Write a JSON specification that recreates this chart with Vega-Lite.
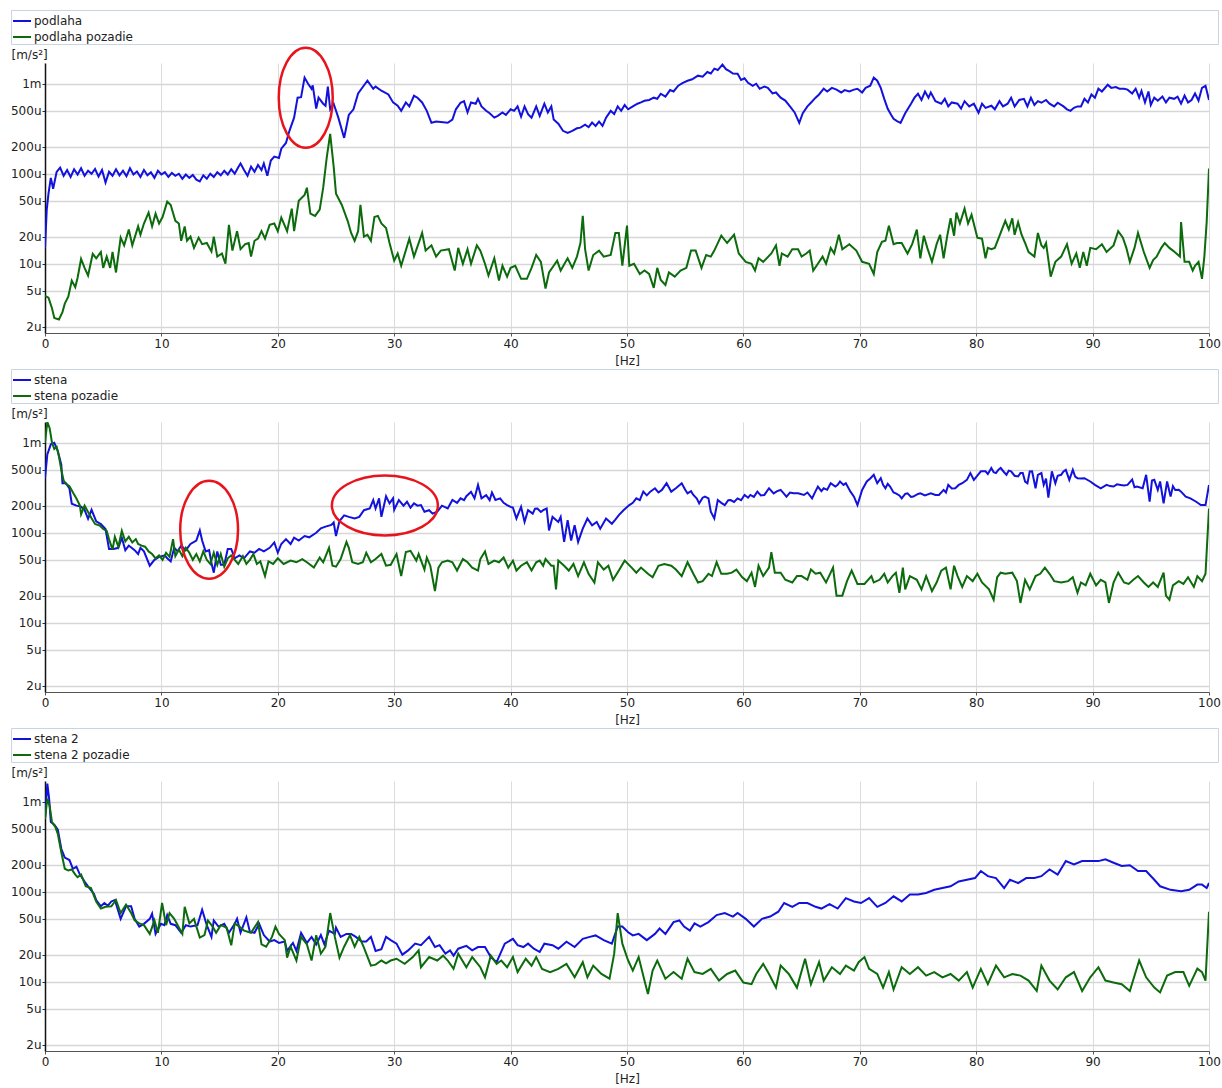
{
"$schema":"https://vega.github.io/schema/vega-lite/v6.json",
"padding":{"top":9,"left":10,"right":2,"bottom":2},
"config":{"font":"DejaVu Sans","view":{"stroke":null},
"axisX":{"labelFlush":false,"labelFontSize":12,"labelColor":"#222","titleFontSize":12,"titleFontWeight":"normal","titleColor":"#222","grid":true,"gridColor":"#dcdcdc","gridWidth":1,"domainColor":"#555","tickColor":"#555","tickSize":3,"labelPadding":2,"titlePadding":6},
"axisY":{"labelFontSize":12,"labelColor":"#222","titleFontSize":12,"titleFontWeight":"normal","titleColor":"#222","grid":true,"gridColor":"#d6d6d6","gridWidth":1.5,"domainColor":"#111","domainWidth":1.5,"tickColor":"#333","tickSize":3,"labelPadding":1,"titleAngle":0,"titleAlign":"left","titleBaseline":"middle","titleX":-34,"titleY":-9},
"legend":{"orient":"none","legendX":-34,"legendY":-53,"direction":"vertical","symbolType":"stroke","symbolSize":324,"symbolStrokeWidth":2,"labelFontSize":12,"labelColor":"#222","labelLimit":3000,"labelOffset":2,"strokeColor":"#c8d4e2","padding":1,"rowPadding":0}},
"spacing":2,
"resolve":{"scale":{"color":"independent"}},
"datasets":{
"p1a":[{"f":0,"v":15},{"f":0.15,"v":40},{"f":0.3,"v":60},{"f":0.5,"v":90},{"f":0.7,"v":68},{"f":1,"v":105},{"f":1.3,"v":117},{"f":1.6,"v":95},{"f":1.9,"v":110},{"f":2.2,"v":92},{"f":2.5,"v":112},{"f":2.8,"v":98},{"f":3.1,"v":115},{"f":3.4,"v":95},{"f":3.7,"v":108},{"f":4,"v":100},{"f":4.3,"v":113},{"f":4.6,"v":93},{"f":4.9,"v":110},{"f":5.2,"v":80},{"f":5.5,"v":105},{"f":5.8,"v":95},{"f":6.1,"v":112},{"f":6.4,"v":96},{"f":6.7,"v":108},{"f":7,"v":94},{"f":7.3,"v":115},{"f":7.6,"v":98},{"f":7.9,"v":106},{"f":8.2,"v":92},{"f":8.5,"v":110},{"f":8.8,"v":96},{"f":9.1,"v":104},{"f":9.4,"v":90},{"f":9.7,"v":108},{"f":10,"v":98},{"f":10.3,"v":104},{"f":10.6,"v":92},{"f":10.9,"v":102},{"f":11.2,"v":95},{"f":11.5,"v":100},{"f":11.8,"v":88},{"f":12.1,"v":98},{"f":12.4,"v":90},{"f":12.7,"v":97},{"f":13,"v":86},{"f":13.3,"v":82},{"f":13.6,"v":96},{"f":13.9,"v":88},{"f":14.2,"v":100},{"f":14.5,"v":92},{"f":14.8,"v":104},{"f":15.1,"v":96},{"f":15.4,"v":108},{"f":15.7,"v":98},{"f":16,"v":112},{"f":16.3,"v":100},{"f":16.6,"v":118},{"f":16.8,"v":130},{"f":17.1,"v":110},{"f":17.4,"v":95},{"f":17.7,"v":120},{"f":18,"v":105},{"f":18.3,"v":125},{"f":18.6,"v":110},{"f":18.8,"v":130},{"f":19.1,"v":95},{"f":19.4,"v":140},{"f":19.7,"v":155},{"f":20.1,"v":150},{"f":20.3,"v":190},{"f":20.7,"v":220},{"f":21,"v":300},{"f":21.4,"v":420},{"f":21.7,"v":700},{"f":22,"v":710},{"f":22.3,"v":1170},{"f":22.6,"v":1000},{"f":22.9,"v":880},{"f":23,"v":960},{"f":23.3,"v":530},{"f":23.5,"v":700},{"f":23.9,"v":600},{"f":24.1,"v":570},{"f":24.3,"v":930},{"f":24.5,"v":520},{"f":24.8,"v":600},{"f":25.2,"v":420},{"f":25.7,"v":250},{"f":26.1,"v":450},{"f":26.5,"v":520},{"f":26.9,"v":780},{"f":27.3,"v":920},{"f":27.7,"v":1080},{"f":28.2,"v":880},{"f":28.4,"v":930},{"f":28.9,"v":836},{"f":29.5,"v":760},{"f":29.9,"v":620},{"f":30.3,"v":570},{"f":30.6,"v":500},{"f":31,"v":620},{"f":31.3,"v":560},{"f":31.7,"v":735},{"f":32,"v":700},{"f":32.4,"v":620},{"f":32.8,"v":500},{"f":33.2,"v":368},{"f":33.6,"v":380},{"f":34,"v":375},{"f":34.6,"v":368},{"f":35,"v":400},{"f":35.3,"v":520},{"f":35.7,"v":615},{"f":36,"v":640},{"f":36.3,"v":480},{"f":36.6,"v":620},{"f":37,"v":600},{"f":37.2,"v":680},{"f":37.5,"v":560},{"f":37.9,"v":500},{"f":38.2,"v":470},{"f":38.6,"v":420},{"f":38.9,"v":440},{"f":39.3,"v":480},{"f":39.6,"v":450},{"f":40,"v":520},{"f":40.3,"v":500},{"f":40.6,"v":560},{"f":40.9,"v":430},{"f":41.2,"v":560},{"f":41.5,"v":460},{"f":41.8,"v":420},{"f":42.2,"v":560},{"f":42.5,"v":440},{"f":42.9,"v":600},{"f":43.2,"v":480},{"f":43.5,"v":560},{"f":43.7,"v":400},{"f":44.1,"v":360},{"f":44.5,"v":300},{"f":44.9,"v":285},{"f":45.3,"v":300},{"f":45.7,"v":320},{"f":46,"v":325},{"f":46.4,"v":350},{"f":46.7,"v":330},{"f":47,"v":370},{"f":47.3,"v":340},{"f":47.6,"v":380},{"f":47.9,"v":340},{"f":48.2,"v":420},{"f":48.6,"v":500},{"f":48.9,"v":460},{"f":49.2,"v":560},{"f":49.5,"v":500},{"f":49.8,"v":580},{"f":50.1,"v":520},{"f":50.5,"v":560},{"f":50.9,"v":600},{"f":51.2,"v":620},{"f":51.5,"v":647},{"f":51.9,"v":660},{"f":52.3,"v":700},{"f":52.6,"v":680},{"f":52.9,"v":774},{"f":53.3,"v":720},{"f":53.7,"v":850},{"f":54,"v":820},{"f":54.4,"v":950},{"f":54.8,"v":1020},{"f":55.2,"v":1080},{"f":55.6,"v":1120},{"f":56.1,"v":1230},{"f":56.5,"v":1200},{"f":56.9,"v":1350},{"f":57.2,"v":1300},{"f":57.5,"v":1470},{"f":57.8,"v":1420},{"f":58.2,"v":1630},{"f":58.5,"v":1450},{"f":58.8,"v":1380},{"f":59.1,"v":1300},{"f":59.5,"v":1290},{"f":59.8,"v":1100},{"f":60.1,"v":1150},{"f":60.4,"v":1025},{"f":60.8,"v":950},{"f":61.1,"v":1000},{"f":61.4,"v":880},{"f":61.8,"v":930},{"f":62.1,"v":900},{"f":62.5,"v":780},{"f":62.8,"v":800},{"f":63.2,"v":700},{"f":63.6,"v":650},{"f":64,"v":560},{"f":64.4,"v":480},{"f":64.8,"v":368},{"f":65.1,"v":470},{"f":65.5,"v":560},{"f":65.8,"v":615},{"f":66.2,"v":700},{"f":66.5,"v":760},{"f":66.9,"v":880},{"f":67.2,"v":820},{"f":67.6,"v":900},{"f":68,"v":860},{"f":68.4,"v":800},{"f":68.7,"v":850},{"f":69.1,"v":820},{"f":69.5,"v":860},{"f":69.8,"v":880},{"f":70.2,"v":800},{"f":70.5,"v":900},{"f":70.9,"v":950},{"f":71.2,"v":1170},{"f":71.5,"v":1080},{"f":71.8,"v":900},{"f":72.1,"v":680},{"f":72.4,"v":527},{"f":72.7,"v":450},{"f":72.9,"v":408},{"f":73.2,"v":385},{"f":73.5,"v":368},{"f":73.9,"v":470},{"f":74.4,"v":600},{"f":74.7,"v":700},{"f":75,"v":774},{"f":75.3,"v":660},{"f":75.6,"v":820},{"f":75.9,"v":700},{"f":76.1,"v":800},{"f":76.5,"v":640},{"f":77,"v":600},{"f":77.3,"v":680},{"f":77.6,"v":560},{"f":77.9,"v":620},{"f":78.4,"v":600},{"f":78.7,"v":530},{"f":79,"v":640},{"f":79.4,"v":560},{"f":79.8,"v":600},{"f":80.2,"v":476},{"f":80.5,"v":600},{"f":80.8,"v":540},{"f":81.3,"v":570},{"f":81.6,"v":520},{"f":82,"v":640},{"f":82.3,"v":560},{"f":82.7,"v":600},{"f":83,"v":700},{"f":83.3,"v":560},{"f":83.7,"v":660},{"f":84.1,"v":680},{"f":84.4,"v":560},{"f":84.7,"v":700},{"f":85,"v":580},{"f":85.3,"v":640},{"f":85.6,"v":615},{"f":86,"v":660},{"f":86.3,"v":600},{"f":86.7,"v":560},{"f":87,"v":615},{"f":87.5,"v":560},{"f":87.8,"v":520},{"f":88.1,"v":500},{"f":88.4,"v":540},{"f":88.7,"v":560},{"f":89,"v":560},{"f":89.3,"v":680},{"f":89.6,"v":620},{"f":89.9,"v":760},{"f":90.2,"v":700},{"f":90.5,"v":880},{"f":90.8,"v":820},{"f":91.3,"v":975},{"f":91.6,"v":900},{"f":92,"v":920},{"f":92.3,"v":880},{"f":92.7,"v":880},{"f":93,"v":860},{"f":93.4,"v":780},{"f":93.7,"v":880},{"f":94,"v":700},{"f":94.2,"v":830},{"f":94.5,"v":620},{"f":94.8,"v":820},{"f":95,"v":580},{"f":95.3,"v":700},{"f":95.6,"v":647},{"f":96,"v":720},{"f":96.3,"v":620},{"f":96.6,"v":700},{"f":97,"v":680},{"f":97.3,"v":720},{"f":97.6,"v":600},{"f":97.9,"v":740},{"f":98.2,"v":620},{"f":98.5,"v":660},{"f":98.8,"v":780},{"f":99.1,"v":650},{"f":99.4,"v":900},{"f":99.7,"v":950},{"f":100,"v":660}],
"p1b":[{"f":0,"v":4.4},{"f":0.3,"v":4.2},{"f":0.6,"v":3.2},{"f":0.8,"v":2.5},{"f":1.2,"v":2.4},{"f":1.5,"v":2.9},{"f":1.7,"v":3.6},{"f":2,"v":4.3},{"f":2.3,"v":6.5},{"f":2.6,"v":5.5},{"f":2.8,"v":7},{"f":3.1,"v":11.3},{"f":3.4,"v":9},{"f":3.7,"v":7.4},{"f":4.1,"v":12.9},{"f":4.4,"v":11.5},{"f":4.8,"v":13.5},{"f":5,"v":9},{"f":5.3,"v":12},{"f":5.6,"v":9},{"f":5.8,"v":13.5},{"f":6.1,"v":8},{"f":6.5,"v":19.5},{"f":6.8,"v":16},{"f":7.2,"v":24},{"f":7.5,"v":16},{"f":8,"v":26},{"f":8.2,"v":21},{"f":8.5,"v":28},{"f":8.9,"v":37},{"f":9.2,"v":26},{"f":9.5,"v":36},{"f":9.8,"v":28},{"f":10.1,"v":33},{"f":10.5,"v":49},{"f":10.8,"v":45},{"f":11.2,"v":30},{"f":11.5,"v":28},{"f":11.7,"v":18},{"f":12,"v":26},{"f":12.2,"v":18},{"f":12.5,"v":20},{"f":12.8,"v":15},{"f":13.2,"v":19.5},{"f":13.5,"v":16.5},{"f":13.9,"v":17},{"f":14.3,"v":13.7},{"f":14.5,"v":20},{"f":14.8,"v":12},{"f":15.2,"v":13},{"f":15.5,"v":10},{"f":15.8,"v":27},{"f":16.1,"v":14},{"f":16.5,"v":23},{"f":16.8,"v":14.5},{"f":17.2,"v":16.5},{"f":17.5,"v":17},{"f":17.7,"v":12},{"f":18,"v":18},{"f":18.3,"v":19},{"f":18.6,"v":23},{"f":18.9,"v":19},{"f":19.3,"v":27},{"f":19.7,"v":28},{"f":20,"v":23},{"f":20.3,"v":32.5},{"f":20.8,"v":23},{"f":21.2,"v":41},{"f":21.4,"v":23},{"f":21.8,"v":50},{"f":22.3,"v":58},{"f":22.5,"v":70},{"f":22.8,"v":36},{"f":23.2,"v":34},{"f":23.6,"v":40},{"f":23.9,"v":70},{"f":24.2,"v":150},{"f":24.5,"v":278},{"f":24.8,"v":120},{"f":25,"v":60},{"f":25.5,"v":45},{"f":26,"v":30},{"f":26.3,"v":22},{"f":26.6,"v":18},{"f":26.9,"v":23},{"f":27.1,"v":45},{"f":27.4,"v":20},{"f":27.7,"v":21},{"f":28,"v":18},{"f":28.3,"v":33},{"f":28.6,"v":34},{"f":28.9,"v":28},{"f":29.3,"v":25},{"f":29.6,"v":17},{"f":30,"v":10.8},{"f":30.3,"v":13},{"f":30.6,"v":9.5},{"f":31.3,"v":19},{"f":31.7,"v":12},{"f":32.4,"v":22},{"f":32.7,"v":14},{"f":33.2,"v":16},{"f":33.6,"v":12},{"f":34,"v":14},{"f":34.7,"v":14.5},{"f":35.2,"v":8.4},{"f":35.5,"v":15},{"f":35.9,"v":10},{"f":36.3,"v":14.5},{"f":36.6,"v":10},{"f":37.1,"v":16},{"f":37.4,"v":14},{"f":37.8,"v":10},{"f":38.1,"v":7.4},{"f":38.6,"v":11.5},{"f":39,"v":6.5},{"f":39.3,"v":9.5},{"f":39.7,"v":7.2},{"f":40,"v":9},{"f":40.4,"v":9.5},{"f":40.9,"v":6.8},{"f":41.4,"v":6.8},{"f":41.8,"v":9},{"f":42.2,"v":12.5},{"f":42.6,"v":10.5},{"f":43,"v":5.3},{"f":43.3,"v":8},{"f":43.7,"v":9.5},{"f":44,"v":10.8},{"f":44.3,"v":8.4},{"f":44.9,"v":11.5},{"f":45.3,"v":9},{"f":45.7,"v":12},{"f":46,"v":17},{"f":46.2,"v":34},{"f":46.4,"v":14.5},{"f":46.7,"v":8.4},{"f":47.1,"v":12.5},{"f":47.6,"v":14},{"f":48,"v":12},{"f":48.6,"v":12.5},{"f":49,"v":22},{"f":49.3,"v":22},{"f":49.6,"v":9.5},{"f":50,"v":26.5},{"f":50.2,"v":9.5},{"f":50.6,"v":10},{"f":51.1,"v":7.7},{"f":51.5,"v":8.4},{"f":51.9,"v":7.7},{"f":52.3,"v":5.4},{"f":52.6,"v":9},{"f":52.9,"v":6.6},{"f":53.3,"v":5.8},{"f":53.6,"v":8},{"f":54.1,"v":7.2},{"f":54.6,"v":8.4},{"f":55.1,"v":9},{"f":55.5,"v":14},{"f":55.9,"v":14},{"f":56.4,"v":9},{"f":56.8,"v":12.5},{"f":57.2,"v":12},{"f":57.5,"v":14},{"f":58.1,"v":20.5},{"f":58.6,"v":17},{"f":59.2,"v":21},{"f":59.6,"v":13},{"f":60.2,"v":10.5},{"f":60.7,"v":10},{"f":61,"v":8.4},{"f":61.3,"v":11.5},{"f":61.7,"v":10.5},{"f":62.4,"v":13},{"f":62.8,"v":16},{"f":63.1,"v":9.5},{"f":63.3,"v":13},{"f":63.8,"v":12},{"f":64.2,"v":14.5},{"f":64.7,"v":14.5},{"f":65,"v":12},{"f":65.4,"v":13},{"f":65.7,"v":14},{"f":66,"v":8.4},{"f":66.4,"v":10},{"f":66.8,"v":12},{"f":67.1,"v":10},{"f":67.5,"v":15},{"f":67.8,"v":13},{"f":68.2,"v":21},{"f":68.5,"v":14.5},{"f":69.1,"v":16.5},{"f":69.7,"v":14},{"f":70.2,"v":10.5},{"f":70.8,"v":10},{"f":71.2,"v":7.7},{"f":71.5,"v":13.5},{"f":71.9,"v":17.5},{"f":72.2,"v":18},{"f":72.5,"v":26.5},{"f":72.9,"v":16.5},{"f":73.2,"v":17},{"f":73.6,"v":17},{"f":74.1,"v":13},{"f":74.5,"v":16.5},{"f":74.9,"v":24},{"f":75.2,"v":11.5},{"f":75.5,"v":20.5},{"f":75.8,"v":15},{"f":76.2,"v":10.5},{"f":76.6,"v":16.5},{"f":76.9,"v":21},{"f":77.2,"v":11.5},{"f":77.5,"v":20},{"f":77.8,"v":32},{"f":78.1,"v":20.5},{"f":78.3,"v":37},{"f":78.6,"v":28},{"f":79,"v":41},{"f":79.3,"v":28},{"f":79.6,"v":35},{"f":80.1,"v":19.5},{"f":80.5,"v":19},{"f":80.8,"v":11.5},{"f":81,"v":15},{"f":81.3,"v":14.5},{"f":81.6,"v":15},{"f":82.1,"v":22},{"f":82.5,"v":30},{"f":82.8,"v":24},{"f":83.1,"v":32},{"f":83.3,"v":21},{"f":83.6,"v":29},{"f":83.9,"v":21},{"f":84.2,"v":17},{"f":84.5,"v":13.5},{"f":85,"v":12},{"f":85.3,"v":22},{"f":85.6,"v":16},{"f":85.8,"v":15},{"f":86,"v":17},{"f":86.4,"v":7.2},{"f":86.8,"v":10.5},{"f":87.3,"v":12},{"f":87.8,"v":16.5},{"f":88.2,"v":10},{"f":88.6,"v":13},{"f":88.9,"v":9},{"f":89.2,"v":13.5},{"f":89.5,"v":9.5},{"f":89.8,"v":15},{"f":90.3,"v":14.5},{"f":90.8,"v":16.5},{"f":91.2,"v":13.5},{"f":91.8,"v":16},{"f":92.2,"v":23},{"f":92.6,"v":19.5},{"f":92.9,"v":15},{"f":93.2,"v":10.5},{"f":93.6,"v":15},{"f":93.9,"v":22},{"f":94.4,"v":13.5},{"f":94.9,"v":9},{"f":95.2,"v":11},{"f":95.5,"v":12},{"f":95.9,"v":15},{"f":96.2,"v":17},{"f":96.6,"v":15},{"f":96.9,"v":14},{"f":97.2,"v":13},{"f":97.5,"v":12},{"f":97.6,"v":29},{"f":97.9,"v":10.5},{"f":98.3,"v":10.5},{"f":98.6,"v":8.4},{"f":98.8,"v":9.5},{"f":99.1,"v":10.5},{"f":99.4,"v":6.8},{"f":99.6,"v":12},{"f":99.8,"v":29},{"f":100,"v":114}],
"p2a":[{"f":0,"v":404},{"f":0.2,"v":740},{"f":0.5,"v":960},{"f":0.8,"v":1000},{"f":1.1,"v":810},{"f":1.4,"v":570},{"f":1.5,"v":355},{"f":1.8,"v":355},{"f":2.1,"v":310},{"f":2.3,"v":210},{"f":2.7,"v":200},{"f":3.1,"v":195},{"f":3.4,"v":180},{"f":3.7,"v":143},{"f":4,"v":180},{"f":4.4,"v":134},{"f":4.8,"v":125},{"f":5.2,"v":110},{"f":5.5,"v":66},{"f":5.9,"v":66},{"f":6.3,"v":68},{"f":6.6,"v":88},{"f":6.9,"v":64},{"f":7.2,"v":72},{"f":7.7,"v":64},{"f":8,"v":58},{"f":8.2,"v":68},{"f":8.5,"v":62},{"f":9,"v":43},{"f":9.4,"v":50},{"f":9.8,"v":54},{"f":10.3,"v":56},{"f":10.5,"v":52},{"f":10.8,"v":48},{"f":11.1,"v":68},{"f":11.4,"v":62},{"f":11.7,"v":72},{"f":12.1,"v":64},{"f":12.5,"v":75},{"f":13,"v":82},{"f":13.3,"v":106},{"f":13.5,"v":82},{"f":13.8,"v":62},{"f":14.1,"v":64},{"f":14.3,"v":46},{"f":14.5,"v":36},{"f":14.8,"v":62},{"f":15.1,"v":44},{"f":15.4,"v":44},{"f":15.7,"v":66},{"f":16,"v":66},{"f":16.3,"v":52},{"f":16.7,"v":56},{"f":17.1,"v":52},{"f":17.6,"v":62},{"f":18,"v":60},{"f":18.4,"v":66},{"f":18.8,"v":62},{"f":19.3,"v":68},{"f":19.7,"v":78},{"f":20,"v":60},{"f":20.3,"v":75},{"f":20.7,"v":85},{"f":21.1,"v":75},{"f":21.4,"v":88},{"f":21.8,"v":82},{"f":22.3,"v":92},{"f":22.7,"v":89},{"f":23.3,"v":100},{"f":23.7,"v":112},{"f":24.1,"v":117},{"f":24.6,"v":122},{"f":24.8,"v":130},{"f":25,"v":92},{"f":25.3,"v":135},{"f":25.7,"v":156},{"f":26.1,"v":150},{"f":26.6,"v":144},{"f":27,"v":150},{"f":27.4,"v":178},{"f":27.9,"v":186},{"f":28.2,"v":231},{"f":28.4,"v":186},{"f":28.7,"v":241},{"f":28.9,"v":150},{"f":29.3,"v":254},{"f":29.6,"v":212},{"f":29.9,"v":241},{"f":30,"v":180},{"f":30.4,"v":231},{"f":30.8,"v":200},{"f":31.1,"v":221},{"f":31.4,"v":190},{"f":31.7,"v":212},{"f":32,"v":200},{"f":32.3,"v":203},{"f":32.6,"v":171},{"f":33,"v":178},{"f":33.3,"v":163},{"f":33.7,"v":171},{"f":34.1,"v":200},{"f":34.6,"v":186},{"f":35,"v":231},{"f":35.4,"v":215},{"f":35.7,"v":241},{"f":36,"v":230},{"f":36.2,"v":255},{"f":36.6,"v":285},{"f":36.9,"v":241},{"f":37.2,"v":340},{"f":37.5,"v":241},{"f":37.9,"v":262},{"f":38.2,"v":230},{"f":38.4,"v":280},{"f":38.7,"v":231},{"f":39.1,"v":241},{"f":39.4,"v":215},{"f":39.7,"v":203},{"f":40,"v":194},{"f":40.2,"v":190},{"f":40.5,"v":144},{"f":40.9,"v":194},{"f":41.2,"v":132},{"f":41.5,"v":178},{"f":41.9,"v":163},{"f":42.1,"v":185},{"f":42.3,"v":186},{"f":42.6,"v":170},{"f":42.8,"v":178},{"f":43.1,"v":186},{"f":43.3,"v":106},{"f":43.6,"v":150},{"f":44.1,"v":132},{"f":44.3,"v":150},{"f":44.6,"v":79},{"f":44.9,"v":138},{"f":45.2,"v":82},{"f":45.5,"v":121},{"f":45.8,"v":79},{"f":46.2,"v":111},{"f":46.6,"v":144},{"f":47,"v":121},{"f":47.4,"v":132},{"f":47.7,"v":111},{"f":48.2,"v":144},{"f":48.7,"v":126},{"f":49,"v":140},{"f":49.3,"v":157},{"f":49.7,"v":178},{"f":50.2,"v":203},{"f":50.5,"v":215},{"f":50.8,"v":241},{"f":51.1,"v":230},{"f":51.4,"v":286},{"f":51.7,"v":260},{"f":52,"v":286},{"f":52.4,"v":312},{"f":52.7,"v":280},{"f":53,"v":299},{"f":53.4,"v":355},{"f":53.8,"v":286},{"f":54.2,"v":312},{"f":54.7,"v":355},{"f":55,"v":300},{"f":55.2,"v":274},{"f":55.5,"v":290},{"f":55.7,"v":263},{"f":56,"v":240},{"f":56.2,"v":212},{"f":56.5,"v":245},{"f":56.7,"v":252},{"f":57,"v":241},{"f":57.2,"v":171},{"f":57.5,"v":144},{"f":57.8,"v":231},{"f":58.1,"v":215},{"f":58.4,"v":203},{"f":58.7,"v":230},{"f":58.9,"v":231},{"f":59.2,"v":220},{"f":59.5,"v":241},{"f":59.8,"v":230},{"f":60.1,"v":263},{"f":60.4,"v":245},{"f":60.6,"v":263},{"f":60.9,"v":250},{"f":61.2,"v":286},{"f":61.5,"v":260},{"f":61.8,"v":263},{"f":62.2,"v":312},{"f":62.6,"v":274},{"f":62.9,"v":290},{"f":63.2,"v":299},{"f":63.5,"v":270},{"f":63.7,"v":252},{"f":64,"v":280},{"f":64.3,"v":274},{"f":64.7,"v":274},{"f":65.2,"v":263},{"f":65.5,"v":280},{"f":65.9,"v":241},{"f":66.2,"v":290},{"f":66.4,"v":326},{"f":66.7,"v":290},{"f":66.9,"v":312},{"f":67.2,"v":300},{"f":67.5,"v":355},{"f":67.9,"v":326},{"f":68.1,"v":340},{"f":68.3,"v":371},{"f":68.6,"v":340},{"f":68.8,"v":355},{"f":69.2,"v":286},{"f":69.5,"v":252},{"f":69.8,"v":203},{"f":70.2,"v":299},{"f":70.6,"v":371},{"f":70.9,"v":400},{"f":71.2,"v":440},{"f":71.5,"v":355},{"f":71.8,"v":404},{"f":72,"v":340},{"f":72.2,"v":312},{"f":72.4,"v":350},{"f":72.6,"v":326},{"f":72.9,"v":280},{"f":73.1,"v":274},{"f":73.4,"v":260},{"f":73.6,"v":241},{"f":73.9,"v":270},{"f":74.1,"v":274},{"f":74.4,"v":250},{"f":74.6,"v":252},{"f":75,"v":270},{"f":75.2,"v":274},{"f":75.6,"v":260},{"f":76.1,"v":274},{"f":76.5,"v":263},{"f":76.8,"v":263},{"f":77.2,"v":299},{"f":77.4,"v":280},{"f":77.6,"v":340},{"f":77.9,"v":310},{"f":78.2,"v":312},{"f":78.5,"v":340},{"f":78.8,"v":355},{"f":79.2,"v":387},{"f":79.5,"v":460},{"f":79.8,"v":387},{"f":80.1,"v":430},{"f":80.4,"v":481},{"f":80.8,"v":481},{"f":81,"v":450},{"f":81.3,"v":524},{"f":81.5,"v":470},{"f":81.7,"v":460},{"f":81.9,"v":500},{"f":82.1,"v":524},{"f":82.4,"v":470},{"f":82.6,"v":440},{"f":82.8,"v":490},{"f":83,"v":481},{"f":83.3,"v":430},{"f":83.6,"v":422},{"f":83.8,"v":460},{"f":84,"v":460},{"f":84.2,"v":370},{"f":84.4,"v":355},{"f":84.6,"v":480},{"f":84.8,"v":481},{"f":85.1,"v":312},{"f":85.3,"v":440},{"f":85.6,"v":460},{"f":85.8,"v":340},{"f":86,"v":400},{"f":86.2,"v":245},{"f":86.5,"v":481},{"f":86.8,"v":355},{"f":87,"v":430},{"f":87.3,"v":440},{"f":87.5,"v":480},{"f":87.7,"v":500},{"f":88,"v":387},{"f":88.3,"v":500},{"f":88.5,"v":420},{"f":88.7,"v":404},{"f":89,"v":400},{"f":89.3,"v":404},{"f":89.8,"v":371},{"f":90.2,"v":340},{"f":90.7,"v":312},{"f":91.2,"v":340},{"f":91.5,"v":330},{"f":91.8,"v":326},{"f":92.1,"v":345},{"f":92.4,"v":340},{"f":92.7,"v":335},{"f":93,"v":340},{"f":93.4,"v":390},{"f":93.6,"v":320},{"f":93.8,"v":326},{"f":94.3,"v":312},{"f":94.6,"v":440},{"f":94.9,"v":221},{"f":95.1,"v":380},{"f":95.3,"v":387},{"f":95.6,"v":299},{"f":95.8,"v":371},{"f":96.1,"v":212},{"f":96.4,"v":371},{"f":96.7,"v":252},{"f":96.9,"v":330},{"f":97.1,"v":299},{"f":97.4,"v":300},{"f":97.6,"v":286},{"f":98,"v":252},{"f":98.4,"v":241},{"f":98.9,"v":221},{"f":99.3,"v":203},{"f":99.7,"v":203},{"f":100,"v":340}],
"p2b":[{"f":0,"v":1000},{"f":0.2,"v":1700},{"f":0.4,"v":1450},{"f":0.6,"v":1000},{"f":0.8,"v":850},{"f":1,"v":900},{"f":1.2,"v":700},{"f":1.4,"v":500},{"f":1.6,"v":380},{"f":1.8,"v":350},{"f":2.1,"v":330},{"f":2.4,"v":280},{"f":2.7,"v":240},{"f":3,"v":200},{"f":3.1,"v":160},{"f":3.4,"v":200},{"f":3.7,"v":170},{"f":4,"v":145},{"f":4.3,"v":125},{"f":4.7,"v":120},{"f":5,"v":110},{"f":5.3,"v":105},{"f":5.5,"v":85},{"f":5.8,"v":65},{"f":6,"v":90},{"f":6.3,"v":70},{"f":6.6,"v":105},{"f":6.9,"v":80},{"f":7.2,"v":90},{"f":7.5,"v":78},{"f":7.8,"v":85},{"f":8,"v":75},{"f":8.3,"v":72},{"f":8.6,"v":70},{"f":8.9,"v":62},{"f":9.2,"v":58},{"f":9.5,"v":52},{"f":9.8,"v":56},{"f":10.1,"v":50},{"f":10.4,"v":60},{"f":10.7,"v":54},{"f":11,"v":85},{"f":11.2,"v":55},{"f":11.5,"v":65},{"f":11.8,"v":55},{"f":12.1,"v":68},{"f":12.4,"v":60},{"f":12.7,"v":50},{"f":13,"v":58},{"f":13.3,"v":48},{"f":13.6,"v":62},{"f":13.9,"v":50},{"f":14.2,"v":45},{"f":14.5,"v":60},{"f":14.8,"v":44},{"f":15.1,"v":58},{"f":15.4,"v":42},{"f":15.7,"v":52},{"f":16,"v":56},{"f":16.3,"v":50},{"f":16.6,"v":45},{"f":17,"v":55},{"f":17.3,"v":45},{"f":17.6,"v":50},{"f":17.9,"v":58},{"f":18.2,"v":45},{"f":18.5,"v":48},{"f":18.9,"v":33},{"f":19.2,"v":48},{"f":19.6,"v":45},{"f":20,"v":52},{"f":20.5,"v":45},{"f":21.1,"v":49},{"f":21.6,"v":47},{"f":22.1,"v":51},{"f":22.5,"v":47},{"f":23.1,"v":41},{"f":23.6,"v":53},{"f":23.9,"v":47},{"f":24.4,"v":68},{"f":24.7,"v":43},{"f":25,"v":42},{"f":25.4,"v":51},{"f":25.9,"v":79},{"f":26.1,"v":68},{"f":26.4,"v":47},{"f":26.9,"v":45},{"f":27.3,"v":47},{"f":27.6,"v":60},{"f":28,"v":47},{"f":28.4,"v":51},{"f":28.9,"v":58},{"f":29.3,"v":43},{"f":29.7,"v":44},{"f":30.2,"v":58},{"f":30.6,"v":33},{"f":31,"v":61},{"f":31.4,"v":63},{"f":31.9,"v":49},{"f":32.1,"v":58},{"f":32.6,"v":39},{"f":32.8,"v":53},{"f":33.1,"v":43},{"f":33.5,"v":22.5},{"f":33.8,"v":41},{"f":34.1,"v":47},{"f":34.6,"v":49},{"f":35,"v":47},{"f":35.4,"v":38},{"f":35.9,"v":51},{"f":36.3,"v":47},{"f":36.7,"v":41},{"f":37.2,"v":38},{"f":37.4,"v":51},{"f":37.8,"v":62},{"f":38.1,"v":45},{"f":38.6,"v":49},{"f":39,"v":47},{"f":39.4,"v":53},{"f":39.8,"v":41},{"f":40.2,"v":49},{"f":40.5,"v":38},{"f":40.9,"v":43},{"f":41.4,"v":47},{"f":41.8,"v":38},{"f":42.2,"v":47},{"f":42.5,"v":49},{"f":42.8,"v":43},{"f":43,"v":51},{"f":43.5,"v":43},{"f":43.7,"v":43},{"f":43.9,"v":23.5},{"f":44.1,"v":49},{"f":44.6,"v":43},{"f":45,"v":38},{"f":45.4,"v":45},{"f":45.8,"v":33},{"f":46.3,"v":47},{"f":46.7,"v":35},{"f":47.2,"v":28},{"f":47.5,"v":47},{"f":48,"v":39},{"f":48.4,"v":43},{"f":48.8,"v":30},{"f":49.3,"v":38},{"f":49.8,"v":49},{"f":50.4,"v":41},{"f":50.8,"v":36},{"f":51.2,"v":41},{"f":51.8,"v":35},{"f":52.2,"v":32},{"f":52.7,"v":43},{"f":53.2,"v":45},{"f":53.8,"v":43},{"f":54.2,"v":39},{"f":54.7,"v":33},{"f":55.2,"v":47},{"f":55.7,"v":35},{"f":56.1,"v":28},{"f":56.5,"v":29},{"f":57,"v":35},{"f":57.3,"v":33},{"f":57.7,"v":47},{"f":58.1,"v":35},{"f":58.6,"v":35},{"f":59,"v":36},{"f":59.4,"v":39},{"f":59.9,"v":32},{"f":60.3,"v":29},{"f":60.7,"v":36},{"f":61,"v":25},{"f":61.3,"v":43},{"f":61.7,"v":33},{"f":62.2,"v":41},{"f":62.4,"v":61},{"f":62.7,"v":36},{"f":63.2,"v":36},{"f":63.6,"v":30},{"f":64.2,"v":28},{"f":64.6,"v":33},{"f":65,"v":33},{"f":65.5,"v":30},{"f":65.8,"v":39},{"f":66.2,"v":35},{"f":66.6,"v":36},{"f":67.1,"v":28},{"f":67.5,"v":36},{"f":67.7,"v":41},{"f":68,"v":20},{"f":68.5,"v":20},{"f":68.9,"v":29},{"f":69.3,"v":38},{"f":69.8,"v":27},{"f":70.4,"v":27},{"f":71,"v":33},{"f":71.2,"v":28},{"f":71.7,"v":30},{"f":72.1,"v":35},{"f":72.4,"v":28},{"f":72.8,"v":33},{"f":73.1,"v":36},{"f":73.4,"v":21.5},{"f":73.7,"v":41},{"f":73.9,"v":23.5},{"f":74.3,"v":33},{"f":74.9,"v":30},{"f":75.3,"v":23.5},{"f":75.7,"v":33},{"f":76.2,"v":22.5},{"f":76.6,"v":28},{"f":77,"v":38},{"f":77.4,"v":41},{"f":77.8,"v":23.5},{"f":78.1,"v":43},{"f":78.4,"v":33},{"f":78.8,"v":25},{"f":79.2,"v":33},{"f":79.7,"v":29},{"f":80.1,"v":35},{"f":80.5,"v":28},{"f":81.1,"v":23.5},{"f":81.5,"v":18},{"f":81.8,"v":32},{"f":82.1,"v":36},{"f":82.5,"v":35},{"f":83.1,"v":36},{"f":83.5,"v":29},{"f":83.8,"v":16.6},{"f":84.2,"v":30},{"f":84.6,"v":23.5},{"f":85.1,"v":33},{"f":85.5,"v":35},{"f":85.9,"v":41},{"f":86.3,"v":35},{"f":86.7,"v":29},{"f":87.3,"v":28},{"f":87.9,"v":29},{"f":88.3,"v":32},{"f":88.7,"v":21.5},{"f":89,"v":28},{"f":89.4,"v":26},{"f":89.8,"v":35},{"f":90.3,"v":26},{"f":90.7,"v":30},{"f":91.1,"v":28},{"f":91.4,"v":16.6},{"f":91.8,"v":28},{"f":92.2,"v":36},{"f":92.7,"v":28},{"f":93.1,"v":27},{"f":93.5,"v":30},{"f":93.9,"v":33},{"f":94.4,"v":28},{"f":94.8,"v":25},{"f":95.2,"v":28},{"f":95.6,"v":25},{"f":96.1,"v":36},{"f":96.3,"v":20},{"f":96.6,"v":18},{"f":96.9,"v":26},{"f":97.4,"v":29},{"f":97.8,"v":27},{"f":98.2,"v":32},{"f":98.7,"v":25},{"f":99,"v":33},{"f":99.4,"v":29},{"f":99.7,"v":35},{"f":100,"v":186}],
"p3a":[{"f":0,"v":644},{"f":0.2,"v":1590},{"f":0.35,"v":1100},{"f":0.5,"v":595},{"f":0.8,"v":555},{"f":1.1,"v":490},{"f":1.4,"v":300},{"f":1.7,"v":240},{"f":2.1,"v":225},{"f":2.4,"v":180},{"f":2.7,"v":190},{"f":3,"v":155},{"f":3.4,"v":130},{"f":3.8,"v":110},{"f":4.2,"v":95},{"f":4.4,"v":81},{"f":4.8,"v":69},{"f":5.1,"v":75},{"f":5.4,"v":70},{"f":5.7,"v":78},{"f":6,"v":81},{"f":6.5,"v":50},{"f":6.96,"v":69},{"f":7.4,"v":69},{"f":7.7,"v":50},{"f":8.1,"v":41},{"f":8.5,"v":44},{"f":9,"v":50},{"f":9.2,"v":57},{"f":9.5,"v":34},{"f":9.96,"v":44},{"f":10.25,"v":42.5},{"f":10.5,"v":55},{"f":10.8,"v":44},{"f":11.2,"v":42.5},{"f":11.7,"v":35},{"f":12.1,"v":42.5},{"f":12.5,"v":41},{"f":13.1,"v":42.5},{"f":13.5,"v":63},{"f":13.9,"v":42.5},{"f":14.3,"v":31.5},{"f":14.5,"v":48},{"f":14.9,"v":41},{"f":15.4,"v":44},{"f":15.8,"v":35},{"f":16.3,"v":44},{"f":16.5,"v":50},{"f":16.8,"v":35},{"f":17.3,"v":52},{"f":17.6,"v":36},{"f":18,"v":35},{"f":18.4,"v":44},{"f":18.8,"v":33},{"f":19.3,"v":28},{"f":19.7,"v":29},{"f":20.1,"v":27},{"f":20.6,"v":28},{"f":20.8,"v":22},{"f":21.3,"v":27},{"f":21.6,"v":22},{"f":22,"v":35},{"f":22.5,"v":27},{"f":22.9,"v":31.5},{"f":23.3,"v":26},{"f":23.7,"v":33},{"f":24,"v":26},{"f":24.4,"v":37},{"f":24.9,"v":34},{"f":25,"v":40},{"f":25.4,"v":31.5},{"f":25.9,"v":34},{"f":26.3,"v":34},{"f":26.7,"v":31.5},{"f":27.2,"v":28},{"f":27.6,"v":28},{"f":28,"v":31.5},{"f":28.4,"v":22},{"f":28.9,"v":23},{"f":29.3,"v":31.5},{"f":29.7,"v":29},{"f":30.2,"v":26.5},{"f":30.7,"v":20},{"f":31.2,"v":22.3},{"f":31.8,"v":26.5},{"f":32.3,"v":25.5},{"f":33,"v":31.5},{"f":33.5,"v":24.3},{"f":33.9,"v":25.5},{"f":34.4,"v":20.5},{"f":34.8,"v":22.3},{"f":35.1,"v":19.5},{"f":35.5,"v":23.3},{"f":36.2,"v":25},{"f":36.7,"v":22.3},{"f":37.2,"v":24.3},{"f":37.8,"v":24.3},{"f":38.3,"v":18.8},{"f":38.8,"v":16.5},{"f":39.5,"v":26.5},{"f":40.2,"v":30},{"f":40.6,"v":25.5},{"f":41.1,"v":24.3},{"f":41.5,"v":26.5},{"f":42,"v":23.3},{"f":42.5,"v":21.4},{"f":42.9,"v":26.5},{"f":43.6,"v":25.5},{"f":44.1,"v":23.3},{"f":44.8,"v":27.8},{"f":45.5,"v":24.3},{"f":46.2,"v":30},{"f":46.8,"v":31.5},{"f":47.3,"v":32.7},{"f":48,"v":29},{"f":48.7,"v":26.5},{"f":49.2,"v":41},{"f":49.6,"v":41},{"f":50.1,"v":35.5},{"f":50.5,"v":32.7},{"f":51,"v":34},{"f":51.7,"v":29},{"f":52.4,"v":34},{"f":52.8,"v":39},{"f":53.3,"v":34},{"f":54,"v":46},{"f":54.5,"v":48},{"f":54.9,"v":41},{"f":55.4,"v":37},{"f":55.8,"v":44.5},{"f":56.3,"v":41},{"f":57,"v":46},{"f":57.7,"v":55},{"f":58.4,"v":58},{"f":59.1,"v":53},{"f":59.5,"v":58},{"f":60.2,"v":50},{"f":60.9,"v":41},{"f":61.6,"v":50},{"f":62.3,"v":53},{"f":63,"v":60},{"f":63.5,"v":75},{"f":64.2,"v":68},{"f":64.8,"v":75},{"f":65.5,"v":75},{"f":66.2,"v":68},{"f":66.7,"v":65},{"f":67.4,"v":73},{"f":68.1,"v":65},{"f":68.8,"v":85},{"f":69.5,"v":78},{"f":70.1,"v":75},{"f":70.8,"v":85},{"f":71.5,"v":68},{"f":72.2,"v":75},{"f":72.9,"v":89},{"f":73.6,"v":78},{"f":74.3,"v":93},{"f":75,"v":93},{"f":75.7,"v":97},{"f":76.4,"v":105},{"f":77.1,"v":110},{"f":77.8,"v":115},{"f":78.5,"v":130},{"f":79.2,"v":136},{"f":79.9,"v":142},{"f":80.4,"v":170},{"f":81,"v":149},{"f":81.7,"v":142},{"f":82.4,"v":110},{"f":82.9,"v":136},{"f":83.6,"v":125},{"f":84.3,"v":142},{"f":85,"v":142},{"f":85.6,"v":149},{"f":86.3,"v":177},{"f":87,"v":155},{"f":87.7,"v":219},{"f":88.4,"v":201},{"f":89.1,"v":219},{"f":89.8,"v":219},{"f":90.5,"v":219},{"f":91.1,"v":229},{"f":91.8,"v":210},{"f":92.5,"v":193},{"f":93.2,"v":197},{"f":93.9,"v":170},{"f":94.6,"v":170},{"f":95.3,"v":136},{"f":95.8,"v":115},{"f":96.7,"v":105},{"f":97.6,"v":101},{"f":98.3,"v":105},{"f":99,"v":120},{"f":99.4,"v":120},{"f":99.8,"v":110},{"f":100,"v":125}],
"p3b":[{"f":0,"v":644},{"f":0.2,"v":1080},{"f":0.4,"v":900},{"f":0.6,"v":595},{"f":0.9,"v":520},{"f":1.1,"v":440},{"f":1.4,"v":275},{"f":1.7,"v":180},{"f":2,"v":172},{"f":2.3,"v":177},{"f":2.6,"v":155},{"f":2.8,"v":145},{"f":3.1,"v":155},{"f":3.5,"v":115},{"f":3.95,"v":110},{"f":4.4,"v":78},{"f":4.8,"v":65},{"f":5.2,"v":68},{"f":5.7,"v":69},{"f":6.1,"v":81},{"f":6.5,"v":58},{"f":6.96,"v":72},{"f":7.4,"v":58},{"f":7.7,"v":48},{"f":8.1,"v":44.5},{"f":8.5,"v":42.5},{"f":9,"v":34},{"f":9.4,"v":48},{"f":9.7,"v":35},{"f":10.06,"v":75},{"f":10.4,"v":42.5},{"f":10.7,"v":58},{"f":11.1,"v":50},{"f":11.4,"v":42.5},{"f":11.8,"v":34},{"f":12,"v":68},{"f":12.4,"v":44.5},{"f":12.8,"v":50},{"f":13.3,"v":31},{"f":13.7,"v":33},{"f":14,"v":48},{"f":14.4,"v":41},{"f":14.7,"v":35},{"f":15.1,"v":42.5},{"f":15.6,"v":40},{"f":16,"v":25.4},{"f":16.3,"v":44.5},{"f":16.7,"v":41},{"f":17.1,"v":37},{"f":17.7,"v":35},{"f":18.3,"v":46},{"f":18.6,"v":26},{"f":19,"v":24.5},{"f":19.5,"v":31.5},{"f":19.8,"v":41},{"f":20.1,"v":34},{"f":20.6,"v":29},{"f":20.8,"v":18.5},{"f":21.1,"v":24.5},{"f":21.6,"v":17.2},{"f":22,"v":31.5},{"f":22.5,"v":26},{"f":22.9,"v":17.2},{"f":23.3,"v":32.9},{"f":23.7,"v":20.5},{"f":24.1,"v":24.5},{"f":24.5,"v":58},{"f":24.9,"v":31.5},{"f":25.3,"v":18.5},{"f":25.7,"v":24.5},{"f":26.2,"v":32.9},{"f":26.6,"v":24.5},{"f":27,"v":31.5},{"f":27.4,"v":24},{"f":28,"v":15.1},{"f":28.4,"v":15.5},{"f":28.9,"v":17.2},{"f":29.3,"v":16},{"f":29.7,"v":17.2},{"f":30.2,"v":18},{"f":30.9,"v":15.8},{"f":31.6,"v":18.8},{"f":32.1,"v":22.3},{"f":32.3,"v":14.5},{"f":33,"v":18.8},{"f":33.7,"v":17.2},{"f":34.2,"v":19.5},{"f":34.6,"v":17.2},{"f":35.1,"v":13.9},{"f":35.5,"v":20.5},{"f":36.2,"v":14.5},{"f":36.7,"v":18.8},{"f":37.4,"v":14.5},{"f":37.8,"v":11.2},{"f":38.3,"v":19.5},{"f":38.8,"v":15.8},{"f":39.2,"v":17.2},{"f":39.7,"v":14.5},{"f":40.2,"v":18.8},{"f":40.6,"v":12.8},{"f":41.3,"v":18},{"f":41.8,"v":15.1},{"f":42.2,"v":18.8},{"f":42.7,"v":13.9},{"f":43.4,"v":12.8},{"f":44.1,"v":13.9},{"f":44.8,"v":15.8},{"f":45.5,"v":11.2},{"f":46.2,"v":16.5},{"f":46.6,"v":11.2},{"f":47.1,"v":15.1},{"f":47.8,"v":12.2},{"f":48.5,"v":10.8},{"f":48.9,"v":20.5},{"f":49.2,"v":58},{"f":49.6,"v":26.5},{"f":50.1,"v":17.2},{"f":50.5,"v":13.3},{"f":51,"v":18.8},{"f":51.5,"v":10.3},{"f":51.8,"v":7.3},{"f":52.2,"v":13.3},{"f":52.6,"v":17.2},{"f":53.3,"v":10.8},{"f":54,"v":12.8},{"f":54.7,"v":10.8},{"f":55.2,"v":18},{"f":55.8,"v":12.8},{"f":56.5,"v":12.2},{"f":57.2,"v":13.9},{"f":57.9,"v":10.3},{"f":58.6,"v":12.2},{"f":59.3,"v":13.3},{"f":60,"v":9.8},{"f":60.7,"v":9.4},{"f":61.1,"v":12.2},{"f":61.7,"v":15.8},{"f":62.2,"v":12.2},{"f":62.8,"v":8.6},{"f":63.2,"v":15.1},{"f":63.9,"v":12.2},{"f":64.6,"v":8.6},{"f":65.3,"v":18},{"f":65.8,"v":9.4},{"f":66.5,"v":16.5},{"f":66.9,"v":10.3},{"f":67.6,"v":14.5},{"f":68.3,"v":12.2},{"f":68.8,"v":15.1},{"f":69.5,"v":13.3},{"f":69.9,"v":16.5},{"f":70.4,"v":18.8},{"f":70.8,"v":13.9},{"f":71.5,"v":12.2},{"f":72,"v":8.6},{"f":72.5,"v":12.8},{"f":72.9,"v":8.2},{"f":73.6,"v":14.5},{"f":74.3,"v":12.2},{"f":75,"v":14.5},{"f":75.7,"v":11.7},{"f":76.4,"v":12.8},{"f":77.1,"v":11.2},{"f":77.8,"v":12.2},{"f":78.5,"v":10.3},{"f":79.2,"v":12.8},{"f":79.7,"v":8.6},{"f":80.4,"v":13.9},{"f":81,"v":9.4},{"f":81.7,"v":15.1},{"f":82.4,"v":11.2},{"f":83.1,"v":12.2},{"f":83.8,"v":11.7},{"f":84.5,"v":10.3},{"f":85.2,"v":7.9},{"f":85.6,"v":15.1},{"f":86.3,"v":10.3},{"f":87,"v":8.2},{"f":87.7,"v":11.2},{"f":88.4,"v":12.8},{"f":89.1,"v":7.9},{"f":89.8,"v":11.2},{"f":90.5,"v":14.5},{"f":91.1,"v":10.3},{"f":91.8,"v":9.8},{"f":92.5,"v":9.4},{"f":93.2,"v":7.9},{"f":94,"v":17.2},{"f":94.6,"v":11.2},{"f":95.3,"v":8.6},{"f":95.8,"v":7.6},{"f":96.4,"v":11.7},{"f":97.1,"v":12.8},{"f":97.8,"v":12.8},{"f":98.3,"v":9},{"f":99,"v":14},{"f":99.4,"v":12.8},{"f":99.7,"v":10.3},{"f":100,"v":60}]
},
"vconcat":[
{"width":1164,"height":270,"layer":[
{"data":{"name":"p1a"},"mark":{"type":"line","strokeWidth":2,"clip":true},"encoding":{"x":{"field":"f","type":"quantitative","scale":{"domain":[0,100],"nice":false},"axis":{"title":"[Hz]","values":[0,10,20,30,40,50,60,70,80,90,100]}},"y":{"field":"v","type":"quantitative","scale":{"type":"log","domain":[1.7,1700],"nice":false},"axis":{"title":"[m/s²]","values":[2,5,10,20,50,100,200,500,1000],"labelExpr":"datum.value >= 1000 ? (datum.value/1000) + 'm' : datum.value + 'u'"}},"color":{"datum":"podlaha","type":"nominal","scale":{"domain":["podlaha","podlaha pozadie"],"range":["#1212dc","#0c6b0c"]},"legend":{"title":null,"labelExpr":"pad(datum.label, 299, '\u00a0', 'right') + '\u200b'"}}}},
{"data":{"name":"p1b"},"mark":{"type":"line","strokeWidth":2,"clip":true},"encoding":{"x":{"field":"f","type":"quantitative"},"y":{"field":"v","type":"quantitative"},"color":{"datum":"podlaha pozadie","type":"nominal"}}},
{"data":{"values":[{"f":22.4,"v":699}]},"mark":{"type":"point","shape":"M -0.54 0 A 0.54 1 0 1 1 0.54 0 A 0.54 1 0 1 1 -0.54 0 Z","size":10000,"filled":false,"stroke":"#e8141c","strokeWidth":2.5,"opacity":1},"encoding":{"x":{"field":"f","type":"quantitative"},"y":{"field":"v","type":"quantitative"}}}
]},
{"width":1164,"height":270,"layer":[
{"data":{"name":"p2a"},"mark":{"type":"line","strokeWidth":2,"clip":true},"encoding":{"x":{"field":"f","type":"quantitative","scale":{"domain":[0,100],"nice":false},"axis":{"title":"[Hz]","values":[0,10,20,30,40,50,60,70,80,90,100]}},"y":{"field":"v","type":"quantitative","scale":{"type":"log","domain":[1.7,1700],"nice":false},"axis":{"title":"[m/s²]","values":[2,5,10,20,50,100,200,500,1000],"labelExpr":"datum.value >= 1000 ? (datum.value/1000) + 'm' : datum.value + 'u'"}},"color":{"datum":"stena","type":"nominal","scale":{"domain":["stena","stena pozadie"],"range":["#1212dc","#0c6b0c"]},"legend":{"title":null,"labelExpr":"pad(datum.label, 301, '\u00a0', 'right') + '\u200b'"}}}},
{"data":{"name":"p2b"},"mark":{"type":"line","strokeWidth":2,"clip":true},"encoding":{"x":{"field":"f","type":"quantitative"},"y":{"field":"v","type":"quantitative"},"color":{"datum":"stena pozadie","type":"nominal"}}},
{"data":{"values":[{"f":14.1,"v":108}]},"mark":{"type":"point","shape":"M -0.59 0 A 0.59 1 0 1 1 0.59 0 A 0.59 1 0 1 1 -0.59 0 Z","size":9604,"filled":false,"stroke":"#e8141c","strokeWidth":2.5,"opacity":1},"encoding":{"x":{"field":"f","type":"quantitative"},"y":{"field":"v","type":"quantitative"}}},
{"data":{"values":[{"f":29.2,"v":201}]},"mark":{"type":"point","shape":"M -1 0 A 1 0.566 0 1 1 1 0 A 1 0.566 0 1 1 -1 0 Z","size":11236,"filled":false,"stroke":"#e8141c","strokeWidth":2.5,"opacity":1},"encoding":{"x":{"field":"f","type":"quantitative"},"y":{"field":"v","type":"quantitative"}}}
]},
{"width":1164,"height":270,"layer":[
{"data":{"name":"p3a"},"mark":{"type":"line","strokeWidth":2,"clip":true},"encoding":{"x":{"field":"f","type":"quantitative","scale":{"domain":[0,100],"nice":false},"axis":{"title":"[Hz]","values":[0,10,20,30,40,50,60,70,80,90,100]}},"y":{"field":"v","type":"quantitative","scale":{"type":"log","domain":[1.7,1700],"nice":false},"axis":{"title":"[m/s²]","values":[2,5,10,20,50,100,200,500,1000],"labelExpr":"datum.value >= 1000 ? (datum.value/1000) + 'm' : datum.value + 'u'"}},"color":{"datum":"stena 2","type":"nominal","scale":{"domain":["stena 2","stena 2 pozadie"],"range":["#1212dc","#0c6b0c"]},"legend":{"title":null,"labelExpr":"pad(datum.label, 300, '\u00a0', 'right') + '\u200b'"}}}},
{"data":{"name":"p3b"},"mark":{"type":"line","strokeWidth":2,"clip":true},"encoding":{"x":{"field":"f","type":"quantitative"},"y":{"field":"v","type":"quantitative"},"color":{"datum":"stena 2 pozadie","type":"nominal"}}}
]}
]
}
